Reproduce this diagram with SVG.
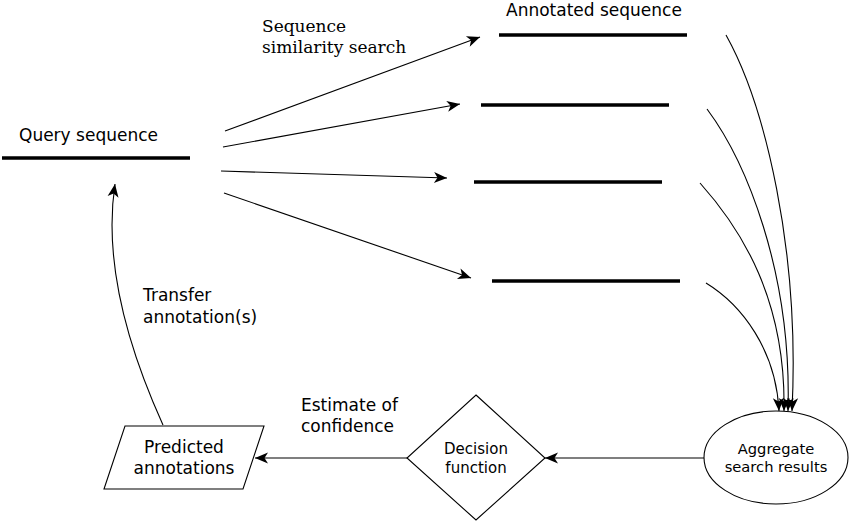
<svg xmlns="http://www.w3.org/2000/svg" width="849" height="522" viewBox="0 0 849 522">
<style>
text{font-family:"DejaVu Sans","Liberation Sans",sans-serif;fill:#000}
.t16{font-size:17px}
.serif{font-family:"DejaVu Serif","Liberation Serif",serif;font-size:17px}
.seq{stroke:#000;stroke-width:3.5;fill:none}
.con{stroke:#000;stroke-width:1.1;fill:none;marker-end:url(#ah)}
.shape{stroke:#000;stroke-width:1.1;fill:#fff}
</style>
<defs>
<marker id="ah" markerUnits="userSpaceOnUse" markerWidth="16" markerHeight="12" viewBox="-14 -6 16 12" refX="0" refY="0" orient="auto">
<path d="M0,0 L-13,-5.5 L-9.5,0 L-13,5.5 z" fill="#000"/>
</marker>
</defs>
<rect width="849" height="522" fill="#fff"/>
<g id="query">
<line class="seq" x1="2" y1="158" x2="190" y2="158"/>
<text class="t16" x="19" y="141">Query sequence</text>
</g>
<g id="annotated1">
<line class="seq" x1="499" y1="35" x2="687" y2="35"/>
<text class="t16" x="506" y="16">Annotated sequence</text>
</g>
<g id="annotated2"><line class="seq" x1="481" y1="105" x2="669" y2="105"/></g>
<g id="annotated3"><line class="seq" x1="474" y1="182" x2="662" y2="182"/></g>
<g id="annotated4"><line class="seq" x1="492" y1="281" x2="680" y2="281"/></g>
<g id="aggregate">
<ellipse class="shape" cx="776" cy="457.5" rx="72" ry="46.5"/>
<text x="776" y="454" font-size="14.7" text-anchor="middle">Aggregate</text>
<text x="776" y="472" font-size="14.7" text-anchor="middle">search results</text>
</g>
<g id="decision">
<polygon class="shape" points="476,395 545,458 476,520 407,458"/>
<text x="476" y="454" font-size="15" text-anchor="middle">Decision</text>
<text x="476" y="473" font-size="15" text-anchor="middle">function</text>
</g>
<g id="predicted">
<polygon class="shape" points="125,426 264,426 243,489 104,489"/>
<text class="t16" x="184" y="453" text-anchor="middle">Predicted</text>
<text class="t16" x="184" y="474" text-anchor="middle">annotations</text>
</g>
<g id="connectors">
<line class="con" x1="225" y1="131" x2="480" y2="37"/>
<line class="con" x1="223" y1="147" x2="460" y2="104"/>
<line class="con" x1="221" y1="171" x2="447" y2="178"/>
<line class="con" x1="224" y1="193" x2="471" y2="278"/>
<path class="con" d="M726,35 C765,105 800,250 792,411"/>
<path class="con" d="M707,109 C745,160 792,270 788,411"/>
<path class="con" d="M700,183 C742,230 786,300 784,411"/>
<path class="con" d="M706,283 C742,305 776,350 779,411"/>
<line class="con" x1="704" y1="458" x2="545" y2="458"/>
<line class="con" x1="407" y1="458" x2="255" y2="458"/>
<path class="con" d="M163,425 C120,330 105,250 115,184"/>
</g>
<g id="labels">
<text class="serif" x="262" y="32">Sequence</text>
<text class="serif" x="262" y="53">similarity search</text>
<text class="t16" x="143" y="301">Transfer</text>
<text class="t16" x="143" y="323">annotation(s)</text>
<text class="t16" x="301" y="411">Estimate of</text>
<text class="t16" x="301" y="432">confidence</text>
</g>
</svg>
